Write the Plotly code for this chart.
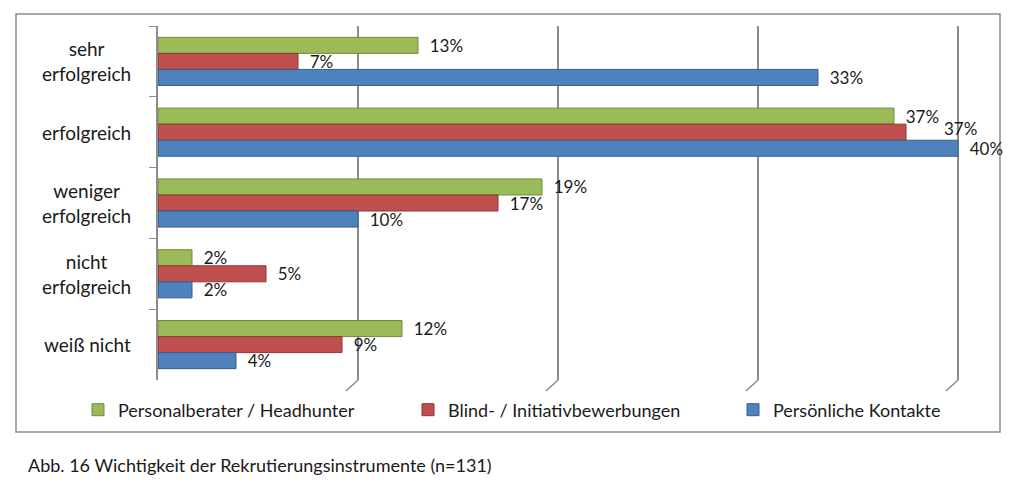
import plotly.graph_objects as go

categories = ["sehr<br>erfolgreich", "erfolgreich", "weniger<br>erfolgreich", "nicht<br>erfolgreich", "weiß nicht"]
series_names = ["Personalberater / Headhunter", "Blind- / Initiativbewerbungen", "Persönliche Kontakte"]
headhunter = [13, 36.8, 19.2, 1.7, 12.2]
blind = [7, 37.4, 17, 5.4, 9.2]
kontakte = [33, 40, 10, 1.7, 3.9]
colors = ["#9BBB59", "#C0504D", "#4F81BD"]
edge_colors = ["#71893F", "#8C3836", "#385D8A"]
grid_values = [0, 10, 20, 30, 40]
caption = "Abb. 16 Wichtigkeit der Rekrutierungsinstrumente (n=131)"

W, H = 1024, 486
L, R, T, B = 158, 64, 26, 106
pw, ph = W - L - R, H - T - B

def px(x):
    return (x - L) / pw

def py(y):
    return (H - B - y) / ph

FONT = "Lato"
TXT = "#1a1a1a"
GRID = "#8C8C8C"
legend_keys = ["legend", "legend2", "legend3"]
legend_x = [78, 408, 733]

series = [headhunter, blind, kontakte]
texts = []
moved = []  # (value, category) of middle-series labels that must be moved aside
for si, vals in enumerate(series):
    t = []
    for ci, v in enumerate(vals):
        if si == 1 and abs(v - series[0][ci]) < 2:
            t.append("")
            moved.append((v, categories[ci]))
        else:
            t.append(f"  {round(v)}%")
    texts.append(t)

fig = go.Figure()
for name, vals, txt, c, ec, lk in zip(series_names, series, texts, colors, edge_colors, legend_keys):
    fig.add_trace(go.Bar(
        y=categories, x=vals, name=name, orientation="h", legend=lk,
        marker=dict(color=c, line=dict(color=ec, width=1)),
        text=txt, textposition="outside", constraintext="none",
        textfont=dict(size=17, color=TXT, family=FONT),
        cliponaxis=False, hoverinfo="skip",
    ))

# red (middle) labels that would collide with the green label are placed like in Excel: shifted right
for v, cat in moved:
    fig.add_annotation(x=v, xref="x", y=cat, yref="y", text=f"{round(v)}%", showarrow=False,
                       xanchor="left", xshift=36, yshift=4, font=dict(size=17, family=FONT, color=TXT))

legend_common = dict(orientation="h", xanchor="left", y=py(410), yanchor="middle",
                     bgcolor="rgba(0,0,0,0)", font=dict(size=18, family=FONT, color=TXT), itemwidth=30)

fig.update_layout(
    width=W, height=H,
    margin=dict(l=L, r=R, t=T, b=B, autoexpand=False),
    barmode="group", bargap=0.32, bargroupgap=0,
    plot_bgcolor="white", paper_bgcolor="white",
    font=dict(family=FONT, size=18, color=TXT),
    showlegend=True,
    legend=dict(x=px(legend_x[0]), **legend_common),
    legend2=dict(x=px(legend_x[1]), **legend_common),
    legend3=dict(x=px(legend_x[2]), **legend_common),
    xaxis=dict(range=[0, 40.1], dtick=10, showgrid=True, gridcolor=GRID, gridwidth=1.5,
               showticklabels=False, zeroline=False, showline=False, fixedrange=True),
    yaxis=dict(autorange="reversed", showticklabels=False, showline=True, linecolor=GRID,
               linewidth=1.5, ticks="outside", tickson="boundaries", ticklen=7, tickcolor=GRID,
               showgrid=False, fixedrange=True),
)

for cat in categories:
    fig.add_annotation(x=px(133), xref="paper", y=cat, yref="y", text=cat, showarrow=False,
                       xanchor="right", align="center", font=dict(size=19, family=FONT, color=TXT))

# 3D floor edges below each gridline
for g in grid_values:
    fig.add_shape(type="line", xref="x", yref="paper", x0=g, x1=g - 0.6, y0=0, y1=py(391),
                  line=dict(color=GRID, width=1.5))
# top-left corner edge
fig.add_shape(type="line", xref="x", yref="paper", x0=0, x1=-0.6, y0=1, y1=py(T + 10),
              line=dict(color=GRID, width=1.5))

fig.add_shape(type="rect", xref="paper", yref="paper", x0=px(16), x1=px(1000), y0=py(432), y1=py(14),
              line=dict(color=GRID, width=1.5), layer="below")

fig.add_annotation(x=px(26), xref="paper", y=py(465), yref="paper", text=caption, showarrow=False,
                   xanchor="left", yanchor="middle", font=dict(size=18, family=FONT, color=TXT))

fig.write_html("out.html", config={"displayModeBar": False},
               post_script="document.body.style.margin='0';document.body.style.overflow='hidden';")
